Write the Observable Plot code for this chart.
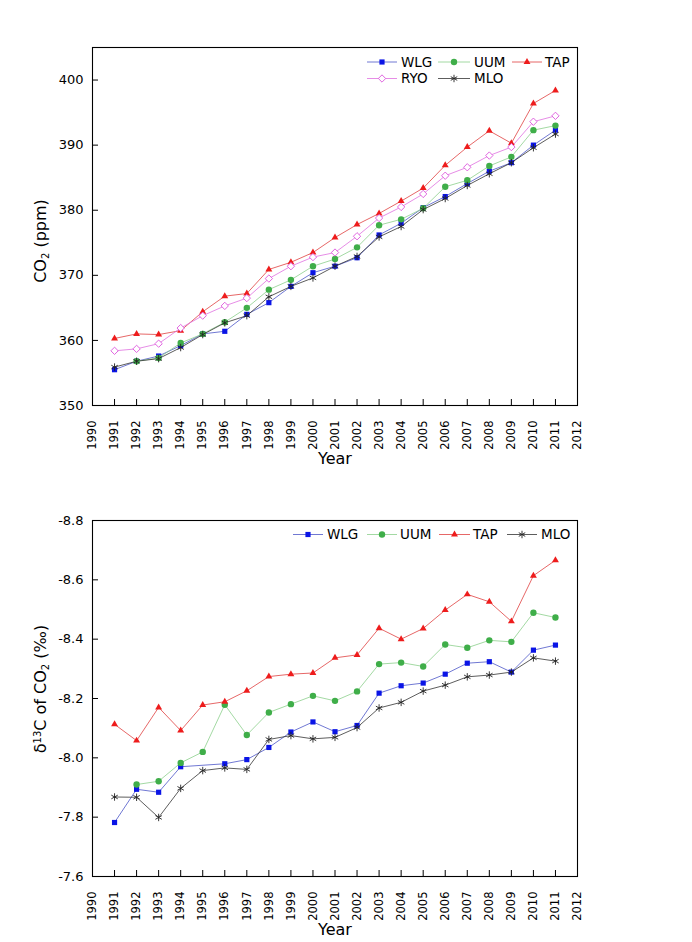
<!DOCTYPE html>
<html><head><meta charset="utf-8">
<script src="https://cdn.jsdelivr.net/npm/d3@7"></script>
<script src="https://cdn.jsdelivr.net/npm/@observablehq/plot@0.6"></script>
<style>
html,body{margin:0;padding:0;background:#fff}
body{width:692px;height:942px;position:relative;overflow:hidden;font-family:"DejaVu Sans",sans-serif;color:#000}
#top{position:absolute;left:0;top:0}
#bot{position:absolute;left:0;top:480px}
#legend{position:absolute;left:0;top:0;pointer-events:none}
</style></head><body>
<div id="top"></div><div id="bot"></div>
<svg id="legend" width="692" height="942"></svg>
<script>
// ---------- data ----------
const years = [1991,1992,1993,1994,1995,1996,1997,1998,1999,2000,2001,2002,2003,2004,2005,2006,2007,2008,2009,2010,2011];
const xTickYears = [1990,1991,1992,1993,1994,1995,1996,1997,1998,1999,2000,2001,2002,2003,2004,2005,2006,2007,2008,2009,2010,2011,2012];

const co2Ticks = [350,360,370,380,390,400];
const co2WLG = [355.5,356.8,357.6,359.2,361.0,361.4,364.0,365.8,368.3,370.4,371.4,372.7,376.2,378.0,380.4,382.1,384.1,386.0,387.3,390.0,392.3];
const co2UUM = [null,356.8,357.3,359.6,361.0,362.8,365.0,367.8,369.3,371.4,372.5,374.3,377.7,378.6,380.3,383.6,384.6,386.8,388.2,392.3,393.0];
const co2TAP = [360.3,361.0,360.9,361.5,364.4,366.8,367.2,370.9,372.0,373.5,375.8,377.8,379.5,381.4,383.4,386.9,389.7,392.2,390.3,396.4,398.4];
const co2RYO = [358.4,358.7,359.5,361.9,363.8,365.3,366.5,369.5,371.4,372.8,373.5,376.0,378.8,380.5,382.5,385.3,386.6,388.4,389.7,393.6,394.5];
const co2MLO = [355.9,356.8,357.2,358.9,360.9,362.7,363.8,366.7,368.3,369.6,371.4,372.9,375.9,377.5,380.1,381.8,383.8,385.6,387.3,389.6,391.7];

const d13Ticks = [-8.8,-8.6,-8.4,-8.2,-8.0,-7.8,-7.6];
const d13WLG = [-7.782,-7.894,-7.884,-7.970,null,-7.980,-7.994,-8.035,-8.087,-8.121,-8.088,-8.109,-8.218,-8.243,-8.252,-8.282,-8.319,-8.324,-8.289,-8.363,-8.380];
const d13UUM = [null,-7.910,-7.921,-7.983,-8.020,-8.179,-8.077,-8.153,-8.181,-8.209,-8.192,-8.224,-8.316,-8.321,-8.308,-8.382,-8.371,-8.396,-8.391,-8.489,-8.473];
const d13TAP = [-8.113,-8.058,-8.170,-8.092,-8.178,-8.189,-8.226,-8.274,-8.282,-8.286,-8.337,-8.347,-8.437,-8.400,-8.436,-8.498,-8.551,-8.526,-8.460,-8.614,-8.666];
const d13MLO = [-7.868,-7.867,-7.799,-7.897,-7.957,-7.966,-7.961,-8.062,-8.075,-8.064,-8.069,-8.102,-8.168,-8.187,-8.225,-8.245,-8.273,-8.279,-8.289,-8.337,-8.326];

// ---------- styles ----------
const styles = {
  WLG: {symbol: "square2",  r: 3.3, fill: "#0a14e6", stroke: "none",    line: "#4b55c8"},
  UUM: {symbol: "circle",   r: 3.2, fill: "#3fae49", stroke: "none",    line: "#8ccf8c"},
  TAP: {symbol: "triangle2",r: 3.3, fill: "#ee1c1c", stroke: "none",    line: "#e04040"},
  RYO: {symbol: "diamond2", r: 3.3, fill: "#ffffff", stroke: "#dd55dd", line: "#e070e0"},
  MLO: {symbol: "asterisk", r: 3.5, fill: "none",    stroke: "#222222", line: "#333333"}
};

function rows(station, values) {
  return years.map((y, i) => ({year: y, value: values[i], station})).filter(d => d.value != null);
}

const W = 692, ML = 92, MR = 115;

function panel({height, marginTop, marginBottom, yDomain, yTicks, yFormat, series}) {
  const fh = height - marginTop - marginBottom;
  const fw = W - ML - MR;
  const marks = [
    Plot.tickX(years, {x: d => d, insetTop: fh - 6, stroke: "#000", strokeWidth: 1}),
    Plot.tickY(yTicks, {y: d => d, insetRight: fw - 6, stroke: "#000", strokeWidth: 1}),
    Plot.axisX(xTickYears, {tickSize: 0, tickPadding: 15, tickRotate: -90, fontSize: 11.5, label: null, tickFormat: d => String(d)}),
    Plot.axisY(yTicks, {tickSize: 0, tickPadding: 9, fontSize: 13, label: null, tickFormat: yFormat}),
    Plot.text(["Year"], {frameAnchor: "bottom", dy: 58, fontSize: 16})
  ];
  for (const [name, data] of series) {
    marks.push(Plot.line(data, {x: "year", y: "value", stroke: styles[name].line, strokeWidth: 0.8}));
  }
  for (const [name, data] of series) {
    const s = styles[name];
    marks.push(Plot.dot(data, {x: "year", y: "value", symbol: () => s.symbol, r: s.r,
      fill: s.fill, stroke: s.stroke, strokeWidth: s.stroke === "none" ? 0 : 0.9}));
  }
  marks.push(Plot.frame({stroke: "#000", strokeWidth: 1.1}));
  return Plot.plot({
    width: W, height, marginLeft: ML, marginRight: MR, marginTop, marginBottom,
    style: {fontFamily: "DejaVu Sans", color: "#000", background: "#fff", overflow: "visible"},
    x: {domain: [1990, 2012], label: null},
    y: {domain: yDomain, label: null},
    symbol: {type: "identity"},
    marks
  });
}

document.getElementById("top").append(panel({
  height: 480, marginTop: 47, marginBottom: 75,
  yDomain: [350, 405], yTicks: co2Ticks, yFormat: d => String(d),
  series: [["WLG", rows("WLG", co2WLG)], ["UUM", rows("UUM", co2UUM)], ["TAP", rows("TAP", co2TAP)],
           ["RYO", rows("RYO", co2RYO)], ["MLO", rows("MLO", co2MLO)]]
}));

document.getElementById("bot").append(panel({
  height: 462, marginTop: 40, marginBottom: 66,
  yDomain: [-7.6, -8.8], yTicks: d13Ticks, yFormat: d => d.toFixed(1),
  series: [["WLG", rows("WLG", d13WLG)], ["UUM", rows("UUM", d13UUM)], ["TAP", rows("TAP", d13TAP)],
           ["MLO", rows("MLO", d13MLO)]]
}));

// ---------- overlay: legends and y-axis titles ----------
const lg = d3.select("#legend");

// y-axis titles with real sub/superscripts
function yTitle(cx, cy, parts) {
  const t = lg.append("text").attr("transform", `translate(${cx},${cy}) rotate(-90)`)
    .attr("text-anchor", "middle").attr("dy", "0.36em")
    .attr("font-family", "DejaVu Sans").attr("font-size", 16).attr("fill", "#000");
  for (const [txt, kind] of parts) {
    const s = t.append("tspan").text(txt);
    if (kind === "sub") s.attr("font-size", 10).attr("baseline-shift", "-30%");
    else if (kind === "sup") s.attr("font-size", 10).attr("baseline-shift", "55%");
  }
}
yTitle(40, 241, [["CO"], ["2", "sub"], [" (ppm)"]]);
yTitle(40, 689, [["\u03B4"], ["13", "sup"], ["C of CO"], ["2", "sub"], [" (\u2030)"]]);

const symbolTypes = {square2: d3.symbolSquare2, circle: d3.symbolCircle, triangle2: d3.symbolTriangle2,
                     diamond2: d3.symbolDiamond2, asterisk: d3.symbolAsterisk};
const legendItems = [
  // [name, lineX1, lineX2, textX, y]
  ["WLG", 367, 397, 401, 62], ["UUM", 438, 470, 474, 62], ["TAP", 512, 542, 545, 62],
  ["RYO", 367, 397, 401, 78.5], ["MLO", 438, 470, 474, 78.5],
  ["WLG", 293, 323, 327, 534.5], ["UUM", 367, 397, 400, 534.5], ["TAP", 439, 470, 473, 534.5],
  ["MLO", 507, 537, 541, 534.5]
];
for (const [name, x1, x2, tx, y] of legendItems) {
  const s = styles[name];
  lg.append("line").attr("x1", x1).attr("x2", x2).attr("y1", y).attr("y2", y)
    .attr("stroke", s.line).attr("stroke-width", 0.8);
  lg.append("path")
    .attr("d", d3.symbol(symbolTypes[s.symbol], Math.PI * s.r * s.r)())
    .attr("transform", `translate(${(x1 + x2) / 2},${y})`)
    .attr("fill", s.fill).attr("stroke", s.stroke).attr("stroke-width", s.stroke === "none" ? 0 : 0.9);
  lg.append("text").attr("x", tx).attr("y", y).attr("dy", "0.36em")
    .attr("font-family", "DejaVu Sans").attr("font-size", 13.5).attr("fill", "#000").text(name);
}
</script>
</body></html>
